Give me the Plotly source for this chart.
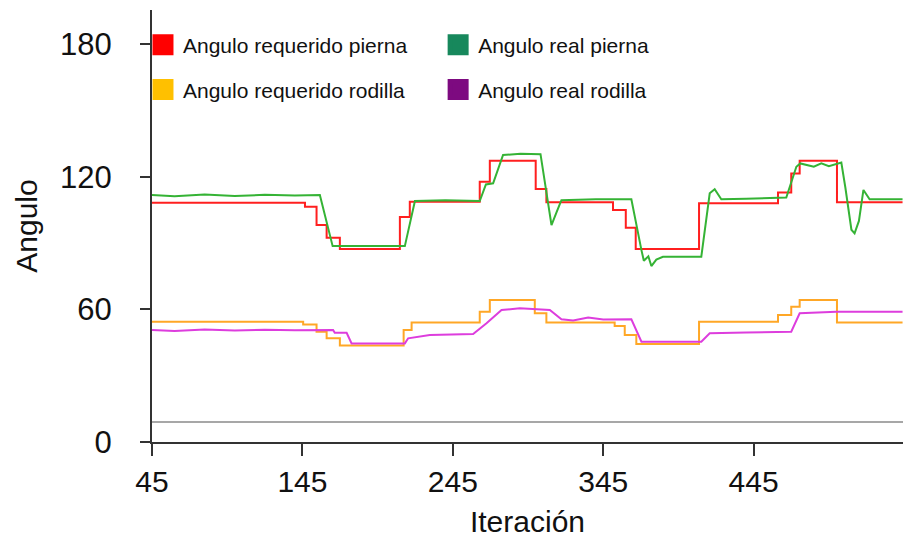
import plotly.graph_objects as go

# ---------------- data ----------------
x_ticks = [45, 145, 245, 345, 445]
y_ticks = [0, 60, 120, 180]

# Angulo requerido pierna (step signal, breakpoints)
req_pierna_x = [45, 146.7, 154.4, 161.1, 169.9, 209.8, 216.4, 262.9, 269.6, 300.1, 307.2,
                351.5, 360, 366.6, 408.7, 461.2, 470, 475.6, 500.4, 544]
req_pierna_y = [108.2, 106.4, 98.1, 92.4, 87.3, 101.8, 108.7, 117.7, 127.2, 114.4, 108.4,
                104.9, 96.9, 87.3, 108.0, 112.9, 121.5, 127.2, 108.4, 108.4]

# Angulo requerido rodilla (step signal, breakpoints)
req_rodilla_x = [45, 145.5, 154.4, 161.1, 169.9, 212.3, 217.6, 262.9, 269.6, 299.5, 307.2,
                 352.6, 359.3, 367, 408.7, 461.2, 470, 475.6, 500.4, 544]
req_rodilla_y = [54.4, 53.2, 49.9, 46.9, 43.6, 50.7, 54.1, 58.9, 64.2, 58.2, 54.0,
                 52.5, 48.4, 44.3, 54.4, 57.4, 61.2, 64.2, 54.1, 54.1]

# Angulo real pierna
real_pierna_x = [45, 60, 80, 100, 120, 140, 156.6, 165.1, 213.1, 219.8, 240, 262.9, 267,
                 271.8, 278.4, 290, 303.3, 306, 310.6, 314, 317.2, 340, 363.7, 370.4, 372,
                 375, 377, 380.3, 384.7, 410.2, 415.8, 419.1, 423.5, 440, 466.7, 473.4, 476,
                 485, 490, 495, 503.3, 506, 510, 512.1, 515, 518, 522.1, 544]
real_pierna_y = [111.7, 111.2, 111.9, 111.3, 111.8, 111.5, 111.7, 88.6, 88.6, 109, 109.3,
                 109, 116.5, 117, 129.8, 130.4, 130.2, 118, 98.1, 104, 109.4, 109.8, 109.8,
                 86.8, 82, 84, 79.6, 82.5, 83.8, 83.8, 112.5, 114.3, 109.8, 110, 110.6, 124.5,
                 126, 124.5, 126, 124.8, 126.4, 115, 96, 94.4, 100, 114, 109.8, 109.8]

# Angulo real rodilla
real_rodilla_x = [45, 60, 80, 100, 120, 140, 165.4, 166.5, 174.4, 177.7, 213.1, 215.3,
                  229.7, 258.5, 267.4, 277.4, 289.5, 300, 309.5, 317.2, 325, 335, 345,
                  363.7, 370.4, 410.2, 415.8, 440, 470, 475.6, 500, 544]
real_rodilla_y = [50.7, 50.2, 50.9, 50.4, 50.8, 50.5, 50.7, 49.4, 49.4, 44.6, 44.6, 46.9,
                  48.4, 48.8, 53.7, 59.7, 60.5, 60, 59.7, 55.5, 55, 56.3, 55.4,
                  55.5, 45.4, 45.4, 49.2, 49.5, 49.9, 58.2, 58.9, 58.9]

ref_line_value = 9

legend_names = ["Angulo requerido pierna", "Angulo real pierna",
                "Angulo requerido rodilla", "Angulo real rodilla"]

# ---------------- styles ----------------
FONT = "Liberation Sans, Arial, sans-serif"
line_colors = ["#ff1f1f", "#35b335", "#ffa726", "#dd3ddd"]
legend_colors = ["#ff0000", "#17885c", "#ffc000", "#7d0a80"]
AXIS = "#333333"

fig = go.Figure()

series = [
    (req_pierna_x, req_pierna_y, "hv"),
    (real_pierna_x, real_pierna_y, "linear"),
    (req_rodilla_x, req_rodilla_y, "hv"),
    (real_rodilla_x, real_rodilla_y, "linear"),
]
draw_order = [2, 3, 0, 1]
for i in draw_order:
    xs, ys, shape = series[i]
    fig.add_trace(go.Scatter(x=xs, y=ys, mode="lines", name=legend_names[i],
                             line=dict(color=line_colors[i], width=2, shape=shape),
                             showlegend=False))

# legend entries: one legend box per entry, laid out as a 2x2 grid
legend_ids = ["legend", "legend2", "legend3", "legend4"]
for i, name in enumerate(legend_names):
    fig.add_trace(go.Scatter(
        x=[None], y=[None], mode="markers", name=name,
        marker=dict(symbol="square", size=16, color=legend_colors[i],
                    line=dict(color=legend_colors[i], width=5)),
        legend=legend_ids[i]))

fig.add_shape(type="line", xref="paper", x0=0, x1=1, yref="y",
              y0=ref_line_value, y1=ref_line_value,
              line=dict(color="#8a8a8a", width=1.5), layer="below")

legend_common = dict(orientation="v", xanchor="left", yanchor="middle",
                     font=dict(family=FONT, size=21, color="#111111"),
                     bgcolor="rgba(0,0,0,0)", borderwidth=0)
col_x = [-0.012, 0.381]
row_y = [0.919, 0.815]

fig.update_layout(
    width=903, height=541,
    margin=dict(l=152, r=0, t=10, b=99, autoexpand=False),
    paper_bgcolor="white", plot_bgcolor="white",
    font=dict(family=FONT, color="#111111"),
    legend=dict(x=col_x[0], y=row_y[0], **legend_common),
    legend2=dict(x=col_x[1], y=row_y[0], **legend_common),
    legend3=dict(x=col_x[0], y=row_y[1], **legend_common),
    legend4=dict(x=col_x[1], y=row_y[1], **legend_common),
    xaxis=dict(range=[45, 544.3], tickvals=x_ticks, ticks="outside", ticklen=12,
               tickwidth=2, tickcolor=AXIS, showline=True, linewidth=2, linecolor=AXIS,
               showgrid=False, zeroline=False, tickfont=dict(size=30, family=FONT),
               ticklabelstandoff=0,
               title=dict(text="Iteración", font=dict(size=30, family=FONT), standoff=14)),
    yaxis=dict(range=[0, 195.4], tickvals=y_ticks, ticks="outside", ticklen=10,
               tickwidth=2, tickcolor=AXIS, showline=True, linewidth=2, linecolor=AXIS,
               showgrid=False, zeroline=False, tickfont=dict(size=31, family=FONT),
               ticklabelstandoff=22,
               title=dict(text="Angulo", font=dict(size=30, family=FONT), standoff=14)),
)

fig.write_html("out.html")
